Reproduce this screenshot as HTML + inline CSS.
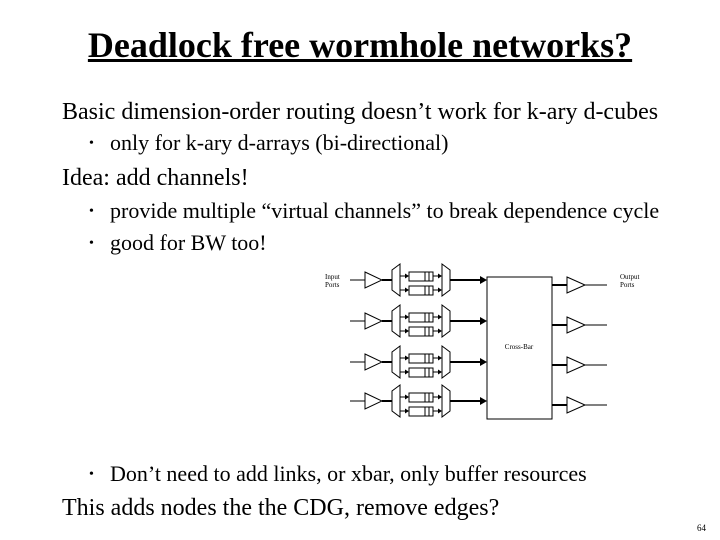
<!DOCTYPE html><html><head><style>
body{margin:0;width:720px;height:540px;background:#fff;font-family:"Liberation Serif",serif;position:relative;overflow:hidden}
.t{position:absolute;white-space:nowrap;color:#000;line-height:1}
.b{position:absolute;font-size:14px;line-height:1}
</style></head><body>
<div class="t" style="left:0;width:720px;text-align:center;top:27px;font-size:36px;font-weight:bold;text-decoration:underline">Deadlock free wormhole networks?</div>
<div class="t" style="left:62px;top:100px;font-size:24px">Basic dimension-order routing doesn’t work for k-ary d-cubes</div>
<div class="b" style="left:89px;top:137px">•</div>
<div class="t" style="left:110px;top:132px;font-size:22px">only for k-ary d-arrays (bi-directional)</div>
<div class="t" style="left:62px;top:166px;font-size:24px">Idea: add channels!</div>
<div class="b" style="left:89px;top:205px">•</div>
<div class="t" style="left:110px;top:200px;font-size:22px">provide multiple “virtual channels” to break dependence cycle</div>
<div class="b" style="left:89px;top:237px">•</div>
<div class="t" style="left:110px;top:232px;font-size:22px">good for BW too!</div>
<div class="b" style="left:89px;top:468px">•</div>
<div class="t" style="left:110px;top:463px;font-size:22px">Don’t need to add links, or xbar, only buffer resources</div>
<div class="t" style="left:62px;top:496px;font-size:24px">This adds nodes the the CDG, remove edges?</div>
<div class="t" style="left:697px;top:524px;font-size:9px">64</div>
<svg style="position:absolute;left:0;top:0" width="720" height="540">
<defs>
<g id="buf">
<line x1="400" y1="4" x2="406" y2="4" stroke="#000"/><polygon points="405,1.5 409,4 405,6.5"/>
<rect x="409" y="0" width="24" height="9" fill="none" stroke="#000"/>
<line x1="425" y1="0" x2="425" y2="9" stroke="#000"/><line x1="429" y1="0" x2="429" y2="9" stroke="#000"/>
<line x1="433" y1="4" x2="439" y2="4" stroke="#000"/><polygon points="438,1.5 442,4 438,6.5"/>
</g>
<g id="row">
<line x1="350" y1="0" x2="365" y2="0" stroke="#000"/>
<polygon points="365,-8 382,0 365,8" fill="none" stroke="#000"/>
<line x1="382" y1="0" x2="392" y2="0" stroke="#000" stroke-width="2"/>
<polygon points="400,-16 392,-10 392,10 400,16" fill="none" stroke="#000"/>
<use href="#buf" y="-8"/><use href="#buf" y="6"/>
<polygon points="442,-16 450,-10 450,10 442,16" fill="none" stroke="#000"/>
<line x1="450" y1="0" x2="481" y2="0" stroke="#000" stroke-width="2"/>
<polygon points="480,-4 487,0 480,4"/>
</g>
<g id="out">
<line x1="552" y1="0" x2="567" y2="0" stroke="#000" stroke-width="2"/>
<polygon points="567,-8 585,0 567,8" fill="none" stroke="#000"/>
<line x1="585" y1="0" x2="607" y2="0" stroke="#000"/>
</g>
</defs>
<rect x="487" y="277" width="65" height="142" fill="none" stroke="#000"/>
<use href="#row" y="280"/><use href="#row" y="321"/><use href="#row" y="362"/><use href="#row" y="401"/>
<use href="#out" y="285"/><use href="#out" y="325"/><use href="#out" y="365"/><use href="#out" y="405"/>
<text x="519" y="349" font-size="7" text-anchor="middle" font-family="Liberation Serif">Cross-Bar</text>
<text x="325" y="279" font-size="7" font-family="Liberation Serif">Input</text>
<text x="325" y="287" font-size="7" font-family="Liberation Serif">Ports</text>
<text x="620" y="279" font-size="7" font-family="Liberation Serif">Output</text>
<text x="620" y="287" font-size="7" font-family="Liberation Serif">Ports</text>
</svg>
</body></html>
